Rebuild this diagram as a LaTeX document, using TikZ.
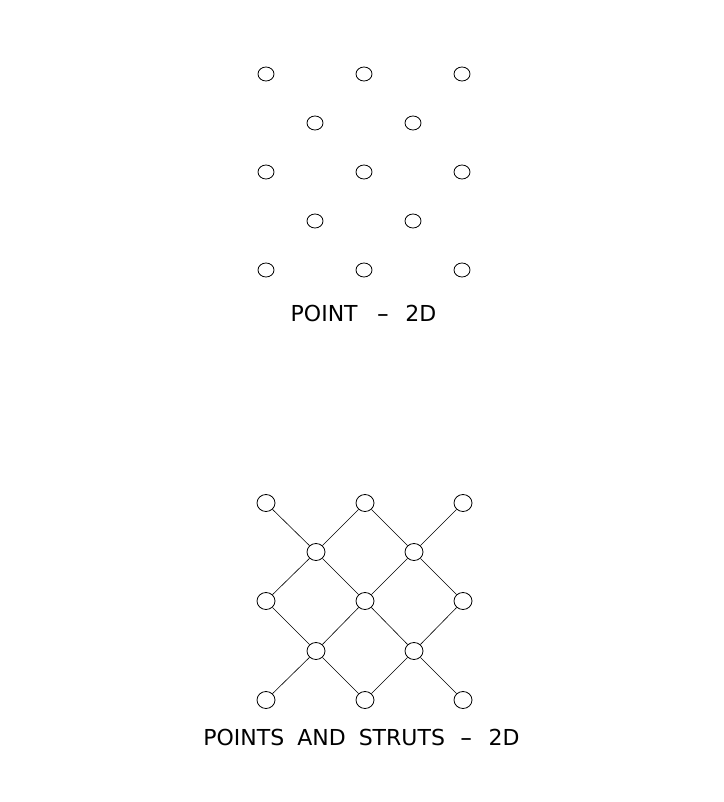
\documentclass[tikz,border=0pt]{standalone}
\usepackage{fontspec}
\usepackage{graphicx}
\newfontfamily\labfont{DejaVu Sans}
\newcommand{\lwd}[1]{\scalebox{1.0}[1]{#1}}
\newcommand{\ldash}{\scalebox{1.6}[1]{-}}
\usetikzlibrary{shapes.geometric}
\begin{document}
\begin{tikzpicture}[x=1pt,y=-1pt,
  pt/.style={draw,ellipse,line width=0.8pt,inner sep=0pt,minimum width=16pt,minimum height=14pt},
  jt/.style={draw,ellipse,line width=0.8pt,inner sep=0pt,minimum width=18pt,minimum height=17pt},
  strut/.style={line width=0.6pt},
  lab/.style={font=\labfont\fontsize{22}{24}\selectfont,inner sep=0pt}]
\useasboundingbox (0,0) rectangle (723,802);
% top grid
\foreach \i/\x in {1/266,2/364,3/462}{
  \foreach \j/\y in {1/74,2/172,3/270}{
    \node[pt] (a\i\j) at (\x,\y) {};
  }
}
\foreach \i/\x in {1/315,2/413}{
  \foreach \j/\y in {1/123,2/221}{
    \node[pt] (b\i\j) at (\x,\y) {};
  }
}
\node[lab] (t1) at (363.5,313) {\lwd{POINT}\hspace{19pt}\ldash\hspace{16pt}\lwd{2D}};
% bottom grid
\foreach \i/\x in {1/266,2/365,3/463}{
  \foreach \j/\y in {1/503,2/601,3/700}{
    \node[jt] (c\i\j) at (\x,\y) {};
  }
}
\foreach \i/\x in {1/316,2/414}{
  \foreach \j/\y in {1/552,2/651}{
    \node[jt] (d\i\j) at (\x,\y) {};
  }
}
\foreach \i in {1,2}{
  \foreach \j in {1,2}{
    \pgfmathtruncatemacro{\ii}{\i+1}
    \pgfmathtruncatemacro{\jj}{\j+1}
    \draw[strut] (d\i\j) -- (c\i\j);
    \draw[strut] (d\i\j) -- (c\ii\j);
    \draw[strut] (d\i\j) -- (c\i\jj);
    \draw[strut] (d\i\j) -- (c\ii\jj);
  }
}
\node[lab] (t2) at (361.5,737) {\lwd{POINTS}\hspace{13pt}\lwd{AND}\hspace{13pt}\lwd{STRUTS}\hspace{15pt}\ldash\hspace{16pt}\lwd{2D}};
\end{tikzpicture}
\end{document}
